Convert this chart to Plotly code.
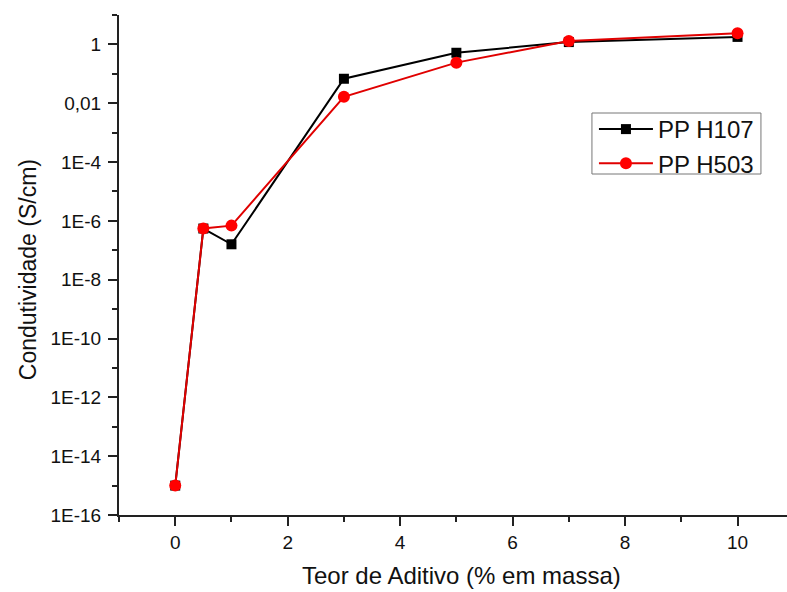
import plotly.graph_objects as go

# Additive content (% by mass) and conductivity (S/cm) for each PP grade
teor = [0, 0.5, 1, 3, 5, 7, 10]
pp_h107 = [1e-15, 5.5e-7, 1.6e-7, 0.068, 0.52, 1.2, 1.8]
pp_h503 = [1e-15, 5.5e-7, 6.9e-7, 0.0166, 0.24, 1.3, 2.4]

# Log-axis labels (Portuguese decimal comma for the small values)
y_major_vals = [1e-16, 1e-14, 1e-12, 1e-10, 1e-8, 1e-6, 1e-4, 1e-2, 1]
y_major_text = ["1E-16", "1E-14", "1E-12", "1E-10", "1E-8", "1E-6", "1E-4", "0,01", "1"]
y_minor_vals = [1e-15, 1e-13, 1e-11, 1e-9, 1e-7, 1e-5, 1e-3, 1e-1, 10]

FONT = "Liberation Sans, Arial, sans-serif"
AXIS = "#222222"

fig = go.Figure()
fig.add_trace(go.Scatter(
    x=teor, y=pp_h107, name="PP H107", mode="lines+markers",
    line=dict(color="black", width=2),
    marker=dict(symbol="square", size=10, color="black"),
))
fig.add_trace(go.Scatter(
    x=teor, y=pp_h503, name="PP H503", mode="lines+markers",
    line=dict(color="#e00000", width=2),
    marker=dict(symbol="circle", size=12, color="#ff0000"),
))

fig.update_layout(
    width=787, height=592,
    margin=dict(l=119, r=0, t=15, b=77),
    paper_bgcolor="white", plot_bgcolor="white",
    font=dict(family=FONT, color="#111111"),
    showlegend=True,
    legend=dict(
        x=0.711, y=0.816, xanchor="left", yanchor="top",
        bgcolor="rgba(0,0,0,0)", borderwidth=0,
        font=dict(family=FONT, size=24, color="#111111"),
        itemwidth=54, tracegroupgap=0,
    ),
    # legend frame
    shapes=[
        dict(type="rect", xref="paper", yref="paper",
             x0=0.708, x1=0.961, y0=0.682, y1=0.804,
             line=dict(color="#777777", width=1), fillcolor="white", layer="below"),
    ],
    xaxis=dict(
        range=[-1, 10.88],
        tickmode="linear", tick0=0, dtick=2,
        ticks="outside", ticklen=9, tickwidth=1.5, tickcolor=AXIS,
        minor=dict(tickmode="linear", tick0=0, dtick=1, ticks="outside",
                   ticklen=5, tickwidth=1.5, tickcolor=AXIS),
        showline=True, linecolor=AXIS, linewidth=2,
        showgrid=False, zeroline=False,
        tickfont=dict(size=19), ticklabelstandoff=0,
    ),
    yaxis=dict(
        type="log", range=[-16, 1],
        tickmode="array", tickvals=y_major_vals, ticktext=y_major_text,
        ticks="outside", ticklen=9, tickwidth=1.5, tickcolor=AXIS,
        minor=dict(tickmode="array", tickvals=y_minor_vals, ticks="outside",
                   ticklen=5, tickwidth=1.5, tickcolor=AXIS),
        showline=True, linecolor=AXIS, linewidth=2,
        showgrid=False, zeroline=False,
        tickfont=dict(size=19), ticklabelstandoff=3,
    ),
    annotations=[
        dict(text="Teor de Aditivo (% em massa)", xref="paper", yref="paper",
             x=0.513, y=-0.12, xanchor="center", yanchor="middle",
             showarrow=False, font=dict(family=FONT, size=24, color="#111111")),
        dict(text="Condutividade (S/cm)", xref="paper", yref="paper",
             x=-0.136, y=0.49, xanchor="center", yanchor="middle", textangle=-90,
             showarrow=False, font=dict(family=FONT, size=23, color="#111111")),
    ],
)

fig.write_html("out.html")
